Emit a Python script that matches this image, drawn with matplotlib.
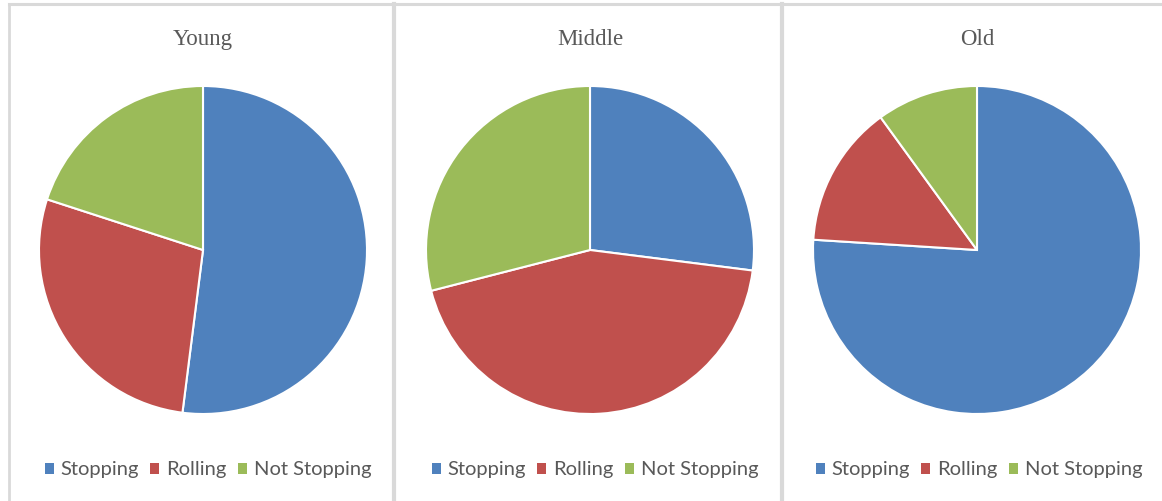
import matplotlib
matplotlib.use("Agg")
import matplotlib.pyplot as plt
from matplotlib.patches import Patch
from matplotlib.lines import Line2D

W, H = 1162, 501
DPI = 100

groups = ["Young", "Middle", "Old"]
categories = ["Stopping", "Rolling", "Not Stopping"]
young = [52, 28, 20]
middle = [27, 44, 29]
old = [76, 14, 10]
colors = ["#4F81BD", "#C0504D", "#9BBB59"]

series = [young, middle, old]

fig = plt.figure(figsize=(W / DPI, H / DPI), dpi=DPI)
fig.patch.set_facecolor("white")

def fx(px):
    return px / W

def fy(py):
    return 1 - py / H

# panel borders
border_col = "#D9D9D9"
fig.add_artist(Line2D([fx(9), fx(1162)], [fy(4), fy(4)], color=border_col, lw=2.2))
for xb in [9, 394, 782]:
    lw = 2.0 if xb == 9 else 3.0
    fig.add_artist(Line2D([fx(xb), fx(xb)], [fy(4), fy(501)], color=border_col, lw=lw))

centers = [(203, 250), (590, 250), (977, 250)]
R = 164
panel_centers = [201, 588, 972]
title_x = [203, 590, 977]

for i, (g, vals) in enumerate(zip(groups, series)):
    cx, cy = centers[i]
    ax = fig.add_axes([fx(cx - R), fy(cy + R), 2 * R / W, 2 * R / H])
    ax.pie(vals, colors=colors, startangle=90, counterclock=False, radius=1,
           wedgeprops=dict(edgecolor="white", linewidth=1.5))
    ax.set_xlim(-1, 1)
    ax.set_ylim(-1, 1)
    ax.set_aspect("auto")
    ax.axis("off")
    fig.text(fx(title_x[i]), fy(39), g, ha="center", va="center",
             fontsize=16.5, family="Liberation Serif", color="#595959")
    handles = [Patch(facecolor=c, edgecolor="none") for c in colors]
    fig.legend(handles, categories, loc="center", ncol=3,
               bbox_to_anchor=(fx(panel_centers[i] + 7), fy(470)),
               frameon=False, handlelength=0.45, handleheight=0.45,
               handletextpad=0.35, columnspacing=0.55,
               prop=dict(family="Lato", size=14.5),
               labelcolor="#595959")

fig.savefig("out.png", dpi=DPI, facecolor="white")
